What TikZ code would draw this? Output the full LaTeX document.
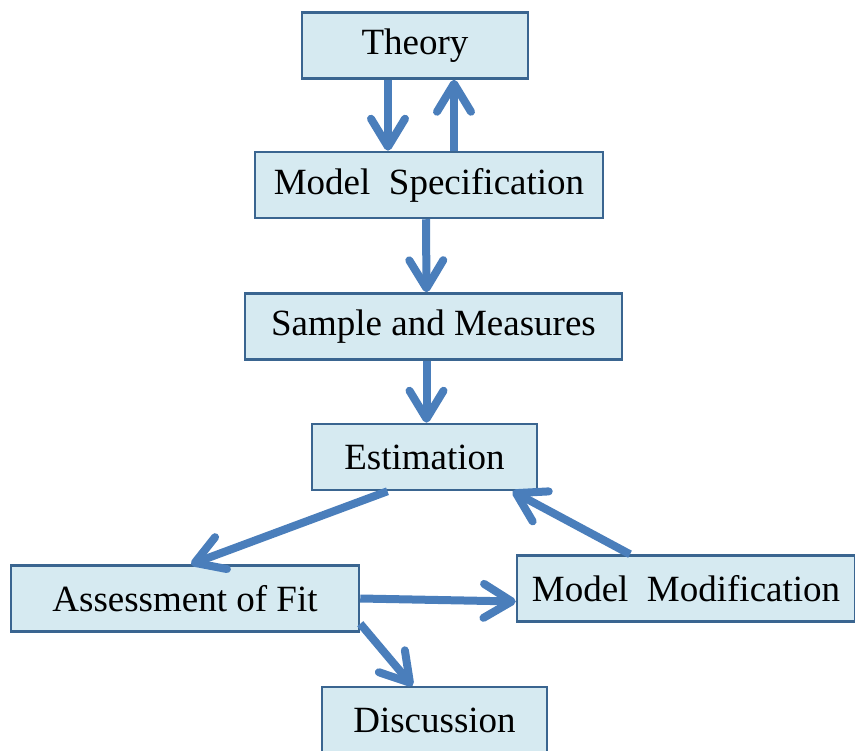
\documentclass[tikz,border=0pt]{standalone}
\usepackage{fontspec}
\setmainfont{Liberation Serif}
\usetikzlibrary{arrows.meta}

\definecolor{boxfill}{HTML}{D6EAF1}
\definecolor{boxline}{HTML}{3A6590}
\definecolor{arrowblue}{HTML}{4A7EBB}

\tikzset{
    box/.style={draw=boxline, fill=boxfill, line width=2.5pt, minimum height=66pt,
        inner sep=0pt, font=\fontsize{37}{42}\selectfont},
    flow/.style={draw=arrowblue, line width=8pt,
        -{Straight Barb[length=28pt, width=34pt, round]}}
}

\begin{document}
\begin{tikzpicture}[x=1pt, y=-1pt]
    \useasboundingbox (0,0) rectangle (855,751);
    % Boxes
    \node[box, minimum width=226pt] (Theory) at (415,45.5) {Theory};
    \node[box, minimum width=348pt] (Spec) at (429,185) {Model\ \ Specification};
    \node[box, minimum width=377pt] (Sample) at (433.5,326.5) {Sample and Measures};
    \node[box, minimum width=225pt] (Estim) at (424.5,457) {Estimation};
    \node[box, minimum width=348pt] (Assess) at (185,598.5) {Assessment of Fit};
    \node[box, minimum width=338pt] (Modif) at (686,588.5) {Model\ \ Modification};
    \node[box, minimum width=225pt] (Discuss) at (434.5,720) {Discussion};
    % Arrows
    \draw[flow] ([xshift=-27pt]Theory.south) -- ([xshift=-41pt]Spec.north);
    \draw[flow] ([xshift=25pt]Spec.north) -- ([xshift=39pt]Theory.south);
    \draw[flow] ([xshift=-3pt]Spec.south) -- ([xshift=-7pt]Sample.north);
    \draw[flow] ([xshift=-7pt]Sample.south) -- ([xshift=2pt]Estim.north);
    \draw[flow] ([xshift=-37pt]Estim.south) -- ([xshift=6pt]Assess.north);
    \draw[flow] ([xshift=-56pt]Modif.north) -- ([xshift=88pt]Estim.south);
    \draw[flow] (Assess.east) -- ([yshift=-13pt]Modif.west);
    \draw[flow] ([yshift=9pt]Assess.south east) -- ([xshift=-22pt]Discuss.north);
\end{tikzpicture}
\end{document}
